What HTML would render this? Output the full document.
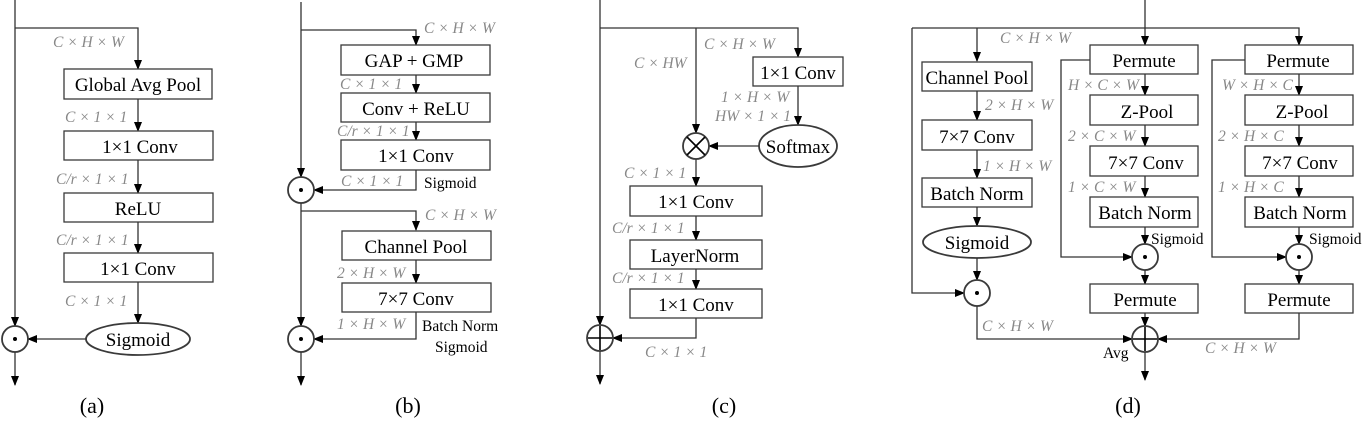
<!DOCTYPE html><html><head><style>body{margin:0;background:#fff}svg{display:block}
.b{fill:#fff;stroke:#3a3a3a;stroke-width:1.3}
.l{fill:none;stroke:#333;stroke-width:1.3}
.t{font-family:"Liberation Serif","Times New Roman",Times,serif;font-size:19px;fill:#000;text-anchor:middle}
.s{font-family:"Liberation Serif","Times New Roman",Times,serif;font-size:15.5px;fill:#000}
.g{font-family:"Liberation Serif","Times New Roman",Times,serif;font-size:15.5px;fill:#888;font-style:italic}
.c{font-family:"Liberation Serif","Times New Roman",Times,serif;font-size:22px;fill:#000;text-anchor:middle}
</style></head><body>
<svg width="1372" height="430" viewBox="0 0 1372 430" xmlns="http://www.w3.org/2000/svg">
<defs><marker id="a" markerWidth="10" markerHeight="10" refX="9" refY="5" orient="auto" markerUnits="userSpaceOnUse"><path d="M0,1 L10,5 L0,9 z" fill="#000"/></marker></defs>
<!-- (a) -->
<path class="l" d="M15,0 V326" marker-end="url(#a)"/>
<path class="l" d="M15,28 H138 V69" marker-end="url(#a)"/>
<rect class="b" x="64" y="69" width="148" height="30"/><text class="t" x="138" y="91">Global Avg Pool</text>
<path class="l" d="M138,99 V131" marker-end="url(#a)"/>
<rect class="b" x="64" y="131" width="149" height="29"/><text class="t" x="140" y="153">1×1 Conv</text>
<path class="l" d="M138,160 V193" marker-end="url(#a)"/>
<rect class="b" x="64" y="193" width="149" height="29"/><text class="t" x="138" y="215">ReLU</text>
<path class="l" d="M138,222 V253" marker-end="url(#a)"/>
<rect class="b" x="64" y="253" width="149" height="29"/><text class="t" x="138" y="275">1×1 Conv</text>
<path class="l" d="M138,282 V323" marker-end="url(#a)"/>
<ellipse class="b" cx="138" cy="339" rx="52" ry="16" style="stroke-width:1.8"/><text class="t" x="138" y="346">Sigmoid</text>
<path class="l" d="M86,339 H28" marker-end="url(#a)"/>
<circle class="b" cx="15" cy="339" r="13" style="stroke-width:1.8"/><circle cx="15" cy="339" r="2" fill="#000"/>
<path class="l" d="M15,352 V385" marker-end="url(#a)"/>
<text class="g" x="53" y="47">C × H × W</text><text class="g" x="65" y="122">C × 1 × 1</text><text class="g" x="56" y="184">C/r × 1 × 1</text><text class="g" x="56" y="245">C/r × 1 × 1</text><text class="g" x="65" y="306">C × 1 × 1</text>
<text class="c" x="92" y="413">(a)</text>
<!-- (b) -->
<path class="l" d="M301,2 V177" marker-end="url(#a)"/>
<path class="l" d="M301,30 H416 V45" marker-end="url(#a)"/>
<rect class="b" x="341" y="45" width="149" height="30"/><text class="t" x="414" y="67">GAP + GMP</text>
<path class="l" d="M416,75 V93" marker-end="url(#a)"/>
<rect class="b" x="341" y="93" width="149" height="29"/><text class="t" x="416" y="115">Conv + ReLU</text>
<path class="l" d="M416,122 V140" marker-end="url(#a)"/>
<rect class="b" x="341" y="140" width="149" height="30"/><text class="t" x="416" y="162">1×1 Conv</text>
<path class="l" d="M416,170 V190 H314" marker-end="url(#a)"/>
<circle class="b" cx="301" cy="190" r="13" style="stroke-width:1.8"/><circle cx="301" cy="190" r="2" fill="#000"/>
<path class="l" d="M301,203 V326" marker-end="url(#a)"/>
<path class="l" d="M301,211 H416 V230" marker-end="url(#a)"/>
<rect class="b" x="342" y="231" width="149" height="29"/><text class="t" x="416" y="253">Channel Pool</text>
<path class="l" d="M416,260 V283" marker-end="url(#a)"/>
<rect class="b" x="342" y="283" width="149" height="29"/><text class="t" x="416" y="305">7×7 Conv</text>
<path class="l" d="M416,312 V339 H314" marker-end="url(#a)"/>
<circle class="b" cx="301" cy="339" r="13" style="stroke-width:1.8"/><circle cx="301" cy="339" r="2" fill="#000"/>
<path class="l" d="M301,352 V385" marker-end="url(#a)"/>
<text class="g" x="424" y="33">C × H × W</text><text class="g" x="340" y="89">C × 1 × 1</text><text class="g" x="337" y="136">C/r × 1 × 1</text><text class="g" x="341" y="186">C × 1 × 1</text><text class="s" x="424" y="188">Sigmoid</text>
<text class="g" x="425" y="220">C × H × W</text><text class="g" x="337" y="278">2 × H × W</text><text class="g" x="337" y="329">1 × H × W</text><text class="s" x="422" y="331">Batch Norm</text><text class="s" x="435" y="352">Sigmoid</text>
<text class="c" x="408" y="413">(b)</text>
<!-- (c) -->
<path class="l" d="M600,0 V325" marker-end="url(#a)"/>
<path class="l" d="M600,28 H798 V57" marker-end="url(#a)"/>
<path class="l" d="M696,28 V133" marker-end="url(#a)"/>
<rect class="b" x="753" y="57" width="90" height="29"/><text class="t" x="798" y="79">1×1 Conv</text>
<path class="l" d="M798,86 V125" marker-end="url(#a)"/>
<ellipse class="b" cx="798" cy="146" rx="39" ry="21" style="stroke-width:1.8"/><text class="t" x="798" y="153">Softmax</text>
<path class="l" d="M759,146 H709" marker-end="url(#a)"/>
<circle class="b" cx="696" cy="146" r="13" style="stroke-width:1.8"/><path class="l" d="M687,137 L705,155 M705,137 L687,155" style="stroke:#000;stroke-width:1.6"/>
<path class="l" d="M696,159 V186" marker-end="url(#a)"/>
<rect class="b" x="630" y="186" width="132" height="30"/><text class="t" x="696" y="208">1×1 Conv</text>
<path class="l" d="M696,216 V240" marker-end="url(#a)"/>
<rect class="b" x="630" y="240" width="132" height="29"/><text class="t" x="695" y="262">LayerNorm</text>
<path class="l" d="M696,269 V289" marker-end="url(#a)"/>
<rect class="b" x="630" y="289" width="132" height="29"/><text class="t" x="696" y="311">1×1 Conv</text>
<path class="l" d="M696,318 V338 H613" marker-end="url(#a)"/>
<circle class="b" cx="600" cy="338" r="13" style="stroke-width:1.8"/><path class="l" d="M588,338 H612 M600,326 V350" style="stroke:#000;stroke-width:1.6"/>
<path class="l" d="M600,351 V384" marker-end="url(#a)"/>
<text class="g" x="704" y="49">C × H × W</text><text class="g" x="634" y="68">C × HW</text><text class="g" x="721" y="102">1 × H × W</text><text class="g" x="715" y="121">HW × 1 × 1</text>
<text class="g" x="624" y="178">C × 1 × 1</text><text class="g" x="612" y="233">C/r × 1 × 1</text><text class="g" x="612" y="283">C/r × 1 × 1</text><text class="g" x="645" y="357">C × 1 × 1</text>
<text class="c" x="724" y="413">(c)</text>
<!-- (d) -->
<path class="l" d="M1145,0 V45" marker-end="url(#a)"/>
<path class="l" d="M912,28 H1299 V45" marker-end="url(#a)"/>
<path class="l" d="M912,28 V293 H964" marker-end="url(#a)"/>
<path class="l" d="M977,28 V61" marker-end="url(#a)"/>
<rect class="b" x="922" y="62" width="110" height="29"/><text class="t" x="977" y="84">Channel Pool</text>
<path class="l" d="M977,91 V120" marker-end="url(#a)"/>
<rect class="b" x="922" y="120" width="110" height="30"/><text class="t" x="977" y="143">7×7 Conv</text>
<path class="l" d="M977,150 V178" marker-end="url(#a)"/>
<rect class="b" x="922" y="178" width="110" height="29"/><text class="t" x="977" y="200">Batch Norm</text>
<path class="l" d="M977,207 V226" marker-end="url(#a)"/>
<ellipse class="b" cx="977" cy="242" rx="54" ry="16" style="stroke-width:1.8"/><text class="t" x="977" y="249">Sigmoid</text>
<path class="l" d="M977,258 V280" marker-end="url(#a)"/>
<circle class="b" cx="977" cy="293" r="13" style="stroke-width:1.8"/><circle cx="977" cy="293" r="2" fill="#000"/>
<path class="l" d="M977,306 V339 H1132" marker-end="url(#a)"/>
<!-- middle -->
<rect class="b" x="1090" y="45" width="108" height="29"/><text class="t" x="1144" y="67">Permute</text>
<path class="l" d="M1090,60 H1061 V257 H1132" marker-end="url(#a)"/>
<path class="l" d="M1145,74 V95" marker-end="url(#a)"/>
<rect class="b" x="1090" y="95" width="108" height="30"/><text class="t" x="1147" y="118">Z-Pool</text>
<path class="l" d="M1145,125 V146" marker-end="url(#a)"/>
<rect class="b" x="1090" y="146" width="108" height="30"/><text class="t" x="1146" y="169">7×7 Conv</text>
<path class="l" d="M1145,176 V197" marker-end="url(#a)"/>
<rect class="b" x="1090" y="197" width="108" height="30"/><text class="t" x="1145" y="219">Batch Norm</text>
<path class="l" d="M1145,227 V244" marker-end="url(#a)"/>
<circle class="b" cx="1145" cy="257" r="13" style="stroke-width:1.8"/><circle cx="1145" cy="257" r="2" fill="#000"/>
<path class="l" d="M1145,270 V284" marker-end="url(#a)"/>
<rect class="b" x="1090" y="284" width="108" height="29"/><text class="t" x="1145" y="306">Permute</text>
<path class="l" d="M1145,313 V326" marker-end="url(#a)"/>
<!-- right -->
<rect class="b" x="1245" y="45" width="108" height="29"/><text class="t" x="1298" y="67">Permute</text>
<path class="l" d="M1245,60 H1212 V257 H1286" marker-end="url(#a)"/>
<path class="l" d="M1299,74 V95" marker-end="url(#a)"/>
<rect class="b" x="1245" y="95" width="108" height="30"/><text class="t" x="1302" y="118">Z-Pool</text>
<path class="l" d="M1299,125 V146" marker-end="url(#a)"/>
<rect class="b" x="1245" y="146" width="108" height="30"/><text class="t" x="1300" y="169">7×7 Conv</text>
<path class="l" d="M1299,176 V197" marker-end="url(#a)"/>
<rect class="b" x="1245" y="197" width="108" height="30"/><text class="t" x="1300" y="219">Batch Norm</text>
<path class="l" d="M1299,227 V244" marker-end="url(#a)"/>
<circle class="b" cx="1299" cy="257" r="13" style="stroke-width:1.8"/><circle cx="1299" cy="257" r="2" fill="#000"/>
<path class="l" d="M1299,270 V284" marker-end="url(#a)"/>
<rect class="b" x="1245" y="284" width="108" height="29"/><text class="t" x="1299" y="306">Permute</text>
<path class="l" d="M1299,313 V339 H1158" marker-end="url(#a)"/>
<circle class="b" cx="1145" cy="339" r="13" style="stroke-width:1.8"/><path class="l" d="M1133,339 H1157 M1145,327 V351" style="stroke:#000;stroke-width:1.6"/>
<path class="l" d="M1145,352 V380" marker-end="url(#a)"/>
<text class="g" x="1000" y="43">C × H × W</text><text class="g" x="985" y="110">2 × H × W</text><text class="g" x="983" y="171">1 × H × W</text><text class="g" x="982" y="331">C × H × W</text>
<text class="g" x="1068" y="90">H × C × W</text><text class="g" x="1068" y="141">2 × C × W</text><text class="g" x="1068" y="192">1 × C × W</text><text class="s" x="1151" y="244">Sigmoid</text>
<text class="g" x="1222" y="90">W × H × C</text><text class="g" x="1218" y="141">2 × H × C</text><text class="g" x="1218" y="192">1 × H × C</text><text class="s" x="1309" y="244">Sigmoid</text>
<text class="g" x="1205" y="353">C × H × W</text><text class="s" x="1103" y="358">Avg</text>
<text class="c" x="1128" y="413">(d)</text>
</svg></body></html>
